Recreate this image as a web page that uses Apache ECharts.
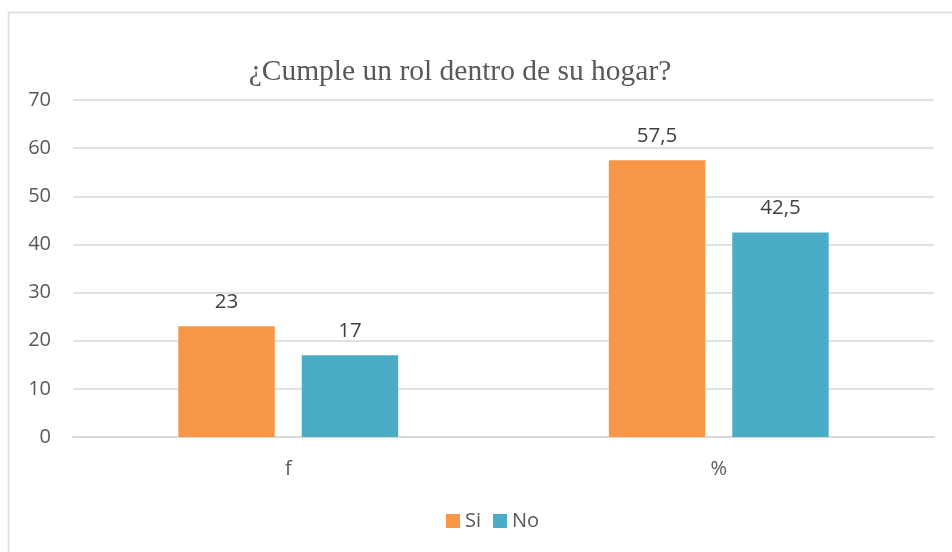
<!DOCTYPE html>
<html>
<head>
<meta charset="utf-8">
<script src="https://cdn.jsdelivr.net/npm/echarts@6/dist/echarts.min.js"></script>
<style>
html, body { margin: 0; padding: 0; background: #fff; }
#main { width: 952px; height: 552px; }
</style>
</head>
<body>
<div id="main"></div>
<script>
var categories = ['f', '%'];
var seriesNames = ['Si', 'No'];
var siValues = [23, 57.5];
var noValues = [17, 42.5];
var yTicks = [0, 10, 20, 30, 40, 50, 60, 70];

var myChart = echarts.init(document.getElementById('main'));

function fmt(p) {
    return String(p.value).replace('.', ',');
}

myChart.setOption({
    animation: false,
    title: {
        text: '¿Cumple un rol dentro de su hogar?',
        left: 455,
        top: 52,
        textAlign: 'center',
        textStyle: {
            fontFamily: 'Liberation Serif',
            fontWeight: 'normal',
            fontSize: 29.5,
            color: '#595959'
        }
    },
    graphic: [{
        type: 'rect',
        shape: { x: 8.5, y: 12.5, width: 960, height: 560 },
        style: { fill: 'none', stroke: '#d9d9d9', lineWidth: 1.5 },
        silent: true,
        z: -1
    }],
    legend: {
        data: seriesNames,
        bottom: 16,
        left: 441,
        itemWidth: 14,
        itemHeight: 14,
        itemGap: 12,
        icon: 'rect',
        textStyle: { fontFamily: 'Open Sans', fontSize: 20, color: '#595959' }
    },
    grid: { left: 73, right: 18, top: 100, bottom: 115 },
    xAxis: {
        type: 'category',
        data: categories,
        axisTick: { show: false },
        axisLine: { lineStyle: { color: '#d9d9d9', width: 2 } },
        axisLabel: { fontFamily: 'Open Sans', fontSize: 20, color: '#595959', margin: 22 }
    },
    yAxis: {
        type: 'value',
        min: yTicks[0],
        max: yTicks[yTicks.length - 1],
        interval: 10,
        axisLine: { show: false },
        axisTick: { show: false },
        splitLine: { lineStyle: { color: '#d9d9d9', width: 1.5 } },
        axisLabel: { fontFamily: 'Open Sans', fontSize: 20, color: '#595959', margin: 22 }
    },
    series: [
        {
            name: seriesNames[0],
            type: 'bar',
            data: siValues,
            barWidth: '22.4%',
            barGap: '28%',
            itemStyle: { color: '#F79646' },
            label: { show: true, position: 'top', distance: 14, formatter: fmt,
                fontFamily: 'Open Sans', fontSize: 20.5, color: '#404040' }
        },
        {
            name: seriesNames[1],
            type: 'bar',
            data: noValues,
            barWidth: '22.4%',
            itemStyle: { color: '#4BACC6' },
            label: { show: true, position: 'top', distance: 14, formatter: fmt,
                fontFamily: 'Open Sans', fontSize: 20.5, color: '#404040' }
        }
    ]
});
</script>
</body>
</html>
